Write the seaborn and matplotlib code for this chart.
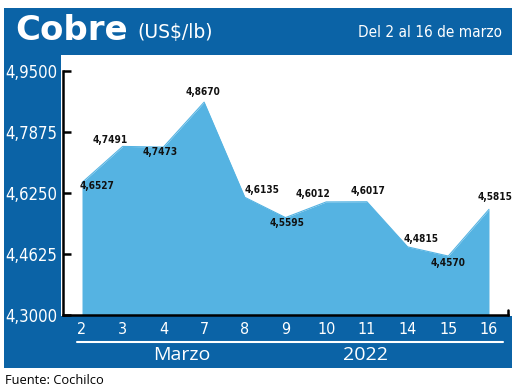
import matplotlib
matplotlib.use("Agg")
import matplotlib.pyplot as plt
import seaborn as sns
import pandas as pd
from matplotlib.patches import Rectangle
from matplotlib.lines import Line2D

days = ["2", "3", "4", "7", "8", "9", "10", "11", "14", "15", "16"]
prices = [4.6527, 4.7491, 4.7473, 4.8670, 4.6135, 4.5595, 4.6012, 4.6017, 4.4815, 4.4570, 4.5815]
value_labels = ["4,6527", "4,7491", "4,7473", "4,8670", "4,6135", "4,5595",
                "4,6012", "4,6017", "4,4815", "4,4570", "4,5815"]
y_ticks = [4.30, 4.4625, 4.625, 4.7875, 4.95]
y_tick_labels = ["4,3000", "4,4625", "4,6250", "4,7875", "4,9500"]

# label offsets (pixels, x right / y up)
label_dx = [15, -13, -3, -1, 17, 2, -13, 1, 13, 0, 6]
label_dy = [-3, 6, -5, 10, 7, -5, 8, 11, 8, -7, 12]

BLUE = "#0b63a6"
FILL = "#55b3e2"
W, H = 520, 390

sns.set_theme(style="white")
cond = dict(family=["DejaVu Sans"], fontstretch="condensed")
plt.rcParams["font.family"] = ["Open Sans", "DejaVu Sans"]

fig = plt.figure(figsize=(W / 100, H / 100), dpi=100)
fig.patch.set_facecolor("white")

def fx(x):
    return x / W

def fy(y):
    return 1 - y / H

# blue frame
fig.patches.append(Rectangle((fx(4), fy(368)), fx(512) - fx(4), fy(8) - fy(368),
                             transform=fig.transFigure, facecolor=BLUE, edgecolor="none", zorder=-10))
# white plot area
fig.patches.append(Rectangle((fx(61), fy(316)), fx(513) - fx(61), fy(55) - fy(316),
                             transform=fig.transFigure, facecolor="white", edgecolor="none", zorder=-9))

ax = fig.add_axes([fx(63), fy(315), fx(508) - fx(63), fy(55) - fy(315)])
ax.set_zorder(5)
ax.set_facecolor("none")

df = pd.DataFrame({"pos": range(len(days)), "price": prices})
ax.fill_between(df["pos"], 4.30, df["price"], color=FILL, linewidth=0, zorder=1)
sns.lineplot(data=df, x="pos", y="price", color=FILL, linewidth=0.8, ax=ax, zorder=2)

ax.set_xlim(-0.467, 10.467)
ax.set_ylim(4.30, 4.9926)
ax.set_xlabel("")
ax.set_ylabel("")

for s in ["top", "right"]:
    ax.spines[s].set_visible(False)
ax.spines["left"].set_bounds(4.30, 4.95)
for s in ["left", "bottom"]:
    ax.spines[s].set_color("black")
    ax.spines[s].set_linewidth(1.8)
    ax.spines[s].set_zorder(3)

ax.set_yticks(y_ticks)
ax.set_yticklabels(y_tick_labels, fontsize=12, color="white", **cond)
ax.tick_params(axis="y", direction="in", length=6, width=1.8, color="black", pad=4, left=True)

ax.set_xticks(range(len(days)))
ax.set_xticklabels(days, fontsize=11.5, color="white", **cond)
ax.tick_params(axis="x", length=0, pad=5)

# small end mark on bottom axis
ax.plot([10.467, 10.467], [4.30, 4.312], color="black", lw=1.8, clip_on=False, zorder=3)

for i, (v, lab) in enumerate(zip(prices, value_labels)):
    ax.annotate(lab, (i, v), xytext=(label_dx[i], label_dy[i]), textcoords="offset pixels",
                ha="center", va="center", fontsize=7.2, fontweight="bold",
                color="#111111", zorder=4, **cond)

# header
fig.text(fx(15), fy(40), "Cobre", color="white", fontsize=24.5, fontweight="bold",
         family=["DejaVu Sans"], va="baseline", ha="left")
fig.text(fx(137), fy(38), "(US$/lb)", color="white", fontsize=13.5,
         family=["DejaVu Sans"], va="baseline", ha="left")
fig.text(fx(502), fy(37), "Del 2 al 16 de marzo", color="white", fontsize=11,
         va="baseline", ha="right", **cond)

# bottom band
fig.add_artist(Line2D([fx(77), fx(503)], [fy(342), fy(342)], color="white", lw=1.5,
                      transform=fig.transFigure))
fig.text(fx(182), fy(360), "Marzo", color="white", fontsize=14, va="baseline", ha="center")
fig.text(fx(365), fy(360), "2022", color="white", fontsize=14, va="baseline", ha="center")

fig.text(fx(5), fy(380), "Fuente: Cochilco", color="black", fontsize=9.3, va="center", ha="left")

fig.savefig("out.png", dpi=100)
